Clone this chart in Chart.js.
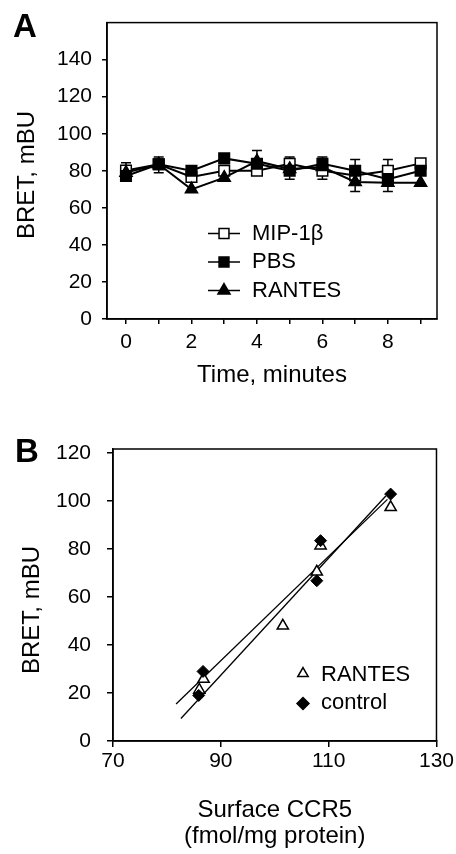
<!DOCTYPE html>
<html>
<head>
<meta charset="utf-8">
<script src="https://cdn.jsdelivr.net/npm/chart.js@4.4.1/dist/chart.umd.min.js"></script>
<style>
  html, body { margin: 0; padding: 0; background: #fff; }
  canvas { display: block; }
</style>
</head>
<body>
<canvas id="chartA" width="456" height="395"></canvas>
<canvas id="chartB" width="456" height="459"></canvas>
<script>
// ---- Panel A: BRET over time ----
const timeMinutes = [0, 1, 2, 3, 4, 5, 6, 7, 8, 9];
const mip1b   = [80.2, 83.5, 76.7, 80.0, 80.0, 83.8, 80.0, 77.5, 80.0, 84.0];
const pbs     = [77.2, 83.5, 80.0, 86.7, 83.8, 80.0, 83.8, 80.0, 75.5, 80.0];
const rantesA = [79.0, 83.5, 70.0, 76.3, 85.2, 81.0, 82.0, 74.0, 73.5, 73.5];
const errHigh = [84.3, 87.4, null, null, 91.0, 87.4, 87.4, 86.1, 86.1, null];
const errLow  = [76.0, 79.0, null, null, 80.0, 75.4, 75.4, 68.8, 68.8, null];
const xLabelsA = [0, 2, 4, 6, 8];

// ---- Panel B: BRET vs surface CCR5 ----
const ccr5Control  = [85.9, 86.7, 107.8, 108.5, 121.5];
const bretControl  = [19.0, 29.0, 66.8, 83.5, 102.9];
const ccr5Rantes   = [86.0, 86.8, 101.5, 107.8, 108.5, 121.5];
const bretRantes   = [21.3, 25.8, 48.0, 70.5, 81.4, 97.4];
const fitControlX  = [82.6, 120.6];
const fitControlY  = [9.4, 102.1];
const fitRantesX   = [81.7, 120.9];
const fitRantesY   = [15.4, 100.7];

const FONT = "'Liberation Sans', Arial, Helvetica, sans-serif";
Chart.defaults.font.family = FONT;
Chart.defaults.color = '#000';

const pts = (xs, ys) => xs.map((x, i) => ({ x: x, y: ys[i] }));

// closed box around the plot area
const frame = {
  id: 'frame',
  afterDraw(chart) {
    const { ctx, chartArea: a } = chart;
    ctx.save();
    ctx.strokeStyle = '#000';
    ctx.lineWidth = 1.5;
    ctx.strokeRect(a.left, a.top, a.right - a.left, a.bottom - a.top);
    ctx.restore();
  }
};

function panelLetter(text, x, y) {
  return {
    id: 'panelLetter',
    afterDraw(chart) {
      const ctx = chart.ctx;
      ctx.save();
      ctx.font = 'bold 33px ' + FONT;
      ctx.fillStyle = '#000';
      ctx.textBaseline = 'alphabetic';
      ctx.fillText(text, x, y);
      ctx.restore();
    }
  };
}

// rotated y-axis title, placed where the figure has it
function sideTitle(text, x, y) {
  return {
    id: 'sideTitle',
    afterDraw(chart) {
      const ctx = chart.ctx;
      ctx.save();
      ctx.translate(x, y);
      ctx.rotate(-Math.PI / 2);
      ctx.font = '24px ' + FONT;
      ctx.fillStyle = '#000';
      ctx.textAlign = 'center';
      ctx.textBaseline = 'middle';
      ctx.fillText(text, 0, 0);
      ctx.restore();
    }
  };
}

// simple legend drawn inside the plot, same look as the figure
function boxLegend(items, cfg) {
  return {
    id: 'boxLegend',
    afterDraw(chart) {
      const ctx = chart.ctx;
      ctx.save();
      ctx.font = cfg.fontSize + 'px ' + FONT;
      ctx.textBaseline = 'middle';
      items.forEach((it, i) => {
        const y = cfg.rows[i];
        if (cfg.segment) {
          ctx.strokeStyle = '#000';
          ctx.lineWidth = 1.5;
          ctx.beginPath();
          ctx.moveTo(cfg.markerX - cfg.segment / 2, y);
          ctx.lineTo(cfg.markerX + cfg.segment / 2, y);
          ctx.stroke();
        }
        ctx.fillStyle = it.fill;
        ctx.strokeStyle = '#000';
        ctx.lineWidth = 1.5;
        Chart.helpers.drawPoint(ctx, { pointStyle: it.style, radius: it.radius, borderWidth: 1.5, rotation: 0 }, cfg.markerX, y);
        ctx.fillStyle = '#000';
        ctx.fillText(it.label, cfg.textX, cfg.rows[i] + (it.dy || 0));
      });
      ctx.restore();
    }
  };
}

const errorBars = {
  id: 'errorBars',
  beforeDatasetsDraw(chart) {
    const { ctx, scales: { x, y } } = chart;
    ctx.save();
    ctx.strokeStyle = '#000';
    ctx.lineWidth = 1.5;
    timeMinutes.forEach((t, i) => {
      if (errHigh[i] == null) return;
      const px = x.getPixelForValue(t);
      const yh = y.getPixelForValue(errHigh[i]);
      const yl = y.getPixelForValue(errLow[i]);
      ctx.beginPath();
      ctx.moveTo(px, yh); ctx.lineTo(px, yl);
      ctx.moveTo(px - 5, yh); ctx.lineTo(px + 5, yh);
      ctx.moveTo(px - 5, yl); ctx.lineTo(px + 5, yl);
      ctx.stroke();
    });
    ctx.restore();
  }
};

const axisGrid = tl => ({ drawOnChartArea: false, color: '#000', tickLength: tl, lineWidth: 1.5 });
const axisBorder = { color: '#000', width: 1.5 };

function seriesA(label, data, style, fill, order) {
  return {
    label: label,
    data: pts(timeMinutes, data),
    borderColor: '#000',
    borderWidth: 2,
    tension: 0,
    pointStyle: style,
    pointRadius: style === 'triangle' ? 7 : 7.5,
    pointBackgroundColor: fill,
    pointBorderColor: '#000',
    pointBorderWidth: 1.5,
    order: order
  };
}

new Chart(document.getElementById('chartA'), {
  type: 'line',
  data: {
    datasets: [
      seriesA('MIP-1β', mip1b, 'rect', '#fff', 2),
      seriesA('PBS', pbs, 'rect', '#000', 1),
      seriesA('RANTES', rantesA, 'triangle', '#000', 0)
    ]
  },
  options: {
    responsive: false,
    animation: false,
    layout: { padding: { top: 22, right: 19, left: 0, bottom: 0 } },
    plugins: { legend: { display: false }, tooltip: { enabled: false } },
    scales: {
      x: {
        type: 'linear',
        min: -0.58,
        max: 9.5,
        ticks: {
          stepSize: 1,
          includeBounds: false,
          autoSkip: false,
          maxRotation: 0,
          padding: 6,
          font: { size: 21 },
          color: '#000',
          callback: v => xLabelsA.includes(v) ? String(v) : ''
        },
        grid: axisGrid(5),
        border: axisBorder,
        title: { display: true, text: 'Time, minutes', color: '#000', font: { size: 24, lineHeight: 1.1 }, padding: { top: 0, bottom: 6 } },
        afterFit: s => { s.height = 76; }
      },
      y: {
        min: 0,
        max: 160,
        ticks: { stepSize: 20, padding: 10, font: { size: 21 }, color: '#000' },
        afterBuildTicks: s => { s.ticks = s.ticks.filter(t => t.value <= 140); },
        grid: axisGrid(5),
        border: axisBorder,
        afterFit: s => { s.width = 107; }
      }
    }
  },
  plugins: [
    errorBars,
    frame,
    panelLetter('A', 13, 37),
    sideTitle('BRET, mBU', 27, 175),
    boxLegend([
      { label: 'MIP-1β', style: 'rect', fill: '#fff', radius: 7 },
      { label: 'PBS', style: 'rect', fill: '#000', radius: 7 },
      { label: 'RANTES', style: 'triangle', fill: '#000', radius: 7 }
    ], { markerX: 224, segment: 32, textX: 252, rows: [233.5, 262, 290.5], fontSize: 22 })
  ]
});

new Chart(document.getElementById('chartB'), {
  type: 'scatter',
  data: {
    datasets: [
      {
        label: 'control',
        data: pts(ccr5Control, bretControl),
        pointStyle: 'rectRot',
        pointRadius: 6,
        pointBackgroundColor: '#000',
        pointBorderColor: '#000',
        pointBorderWidth: 1,
        order: 0
      },
      {
        label: 'RANTES',
        data: pts(ccr5Rantes, bretRantes),
        pointStyle: 'triangle',
        pointRadius: 6.5,
        pointBackgroundColor: '#fff',
        pointBorderColor: '#000',
        pointBorderWidth: 1.5,
        order: 1
      },
      {
        type: 'line',
        label: 'control fit',
        data: pts(fitControlX, fitControlY),
        borderColor: '#000',
        borderWidth: 1.3,
        pointRadius: 0,
        order: 2
      },
      {
        type: 'line',
        label: 'RANTES fit',
        data: pts(fitRantesX, fitRantesY),
        borderColor: '#000',
        borderWidth: 1.3,
        pointRadius: 0,
        order: 3
      }
    ]
  },
  options: {
    responsive: false,
    animation: false,
    layout: { padding: { top: 54, right: 19, left: 0, bottom: 0 } },
    plugins: { legend: { display: false }, tooltip: { enabled: false } },
    scales: {
      x: {
        type: 'linear',
        min: 70,
        max: 130,
        ticks: { stepSize: 20, includeBounds: false, maxRotation: 0, padding: 2, font: { size: 21 }, color: '#000' },
        grid: axisGrid(6),
        border: axisBorder,
        title: { display: true, text: ['Surface CCR5', '(fmol/mg protein)'], color: '#000', font: { size: 24, lineHeight: 1.1 }, padding: { top: 0, bottom: 4 } },
        afterFit: s => { s.height = 113; }
      },
      y: {
        min: 0,
        max: 121.7,
        ticks: { stepSize: 20, includeBounds: false, padding: 16, font: { size: 21 }, color: '#000' },
        grid: axisGrid(6),
        border: axisBorder,
        afterFit: s => { s.width = 113; }
      }
    }
  },
  plugins: [
    frame,
    panelLetter('B', 15, 67),
    sideTitle('BRET, mBU', 32, 215),
    boxLegend([
      { label: 'RANTES', style: 'triangle', fill: '#fff', radius: 6, dy: 1 },
      { label: 'control', style: 'rectRot', fill: '#000', radius: 6, dy: -1 }
    ], { markerX: 303, segment: 0, textX: 321, rows: [278.5, 308.5], fontSize: 22 })
  ]
});
</script>
</body>
</html>
